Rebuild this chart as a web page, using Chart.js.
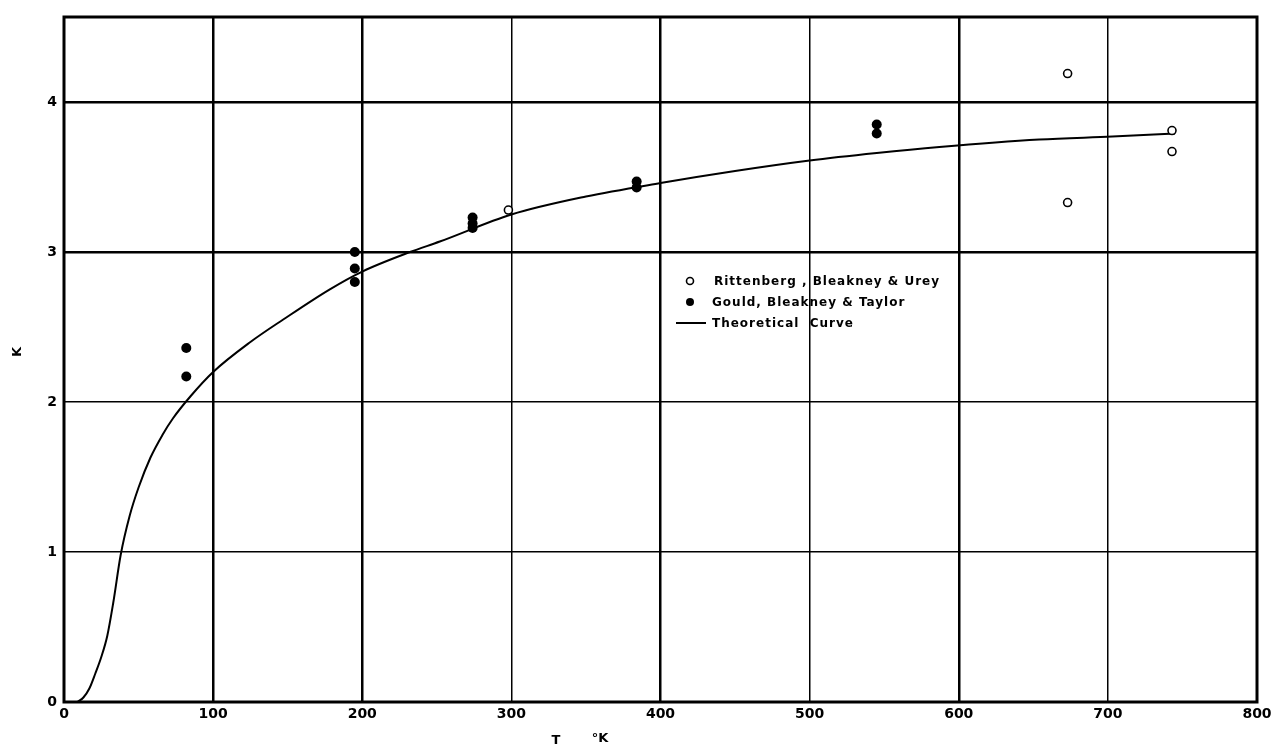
<!DOCTYPE html>
<html>
<head>
<meta charset="utf-8">
<script src="https://cdn.jsdelivr.net/npm/chart.js@4/dist/chart.umd.min.js"></script>
<style>
  html, body { margin: 0; padding: 0; background: #fff; }
  #wrap { position: relative; width: 1277px; height: 750px; }
</style>
</head>
<body>
<div id="wrap"><canvas id="c" width="1277" height="750"></canvas></div>
<script>
// ---- Data ----
const rittT = [298, 673, 673, 743, 743];
const rittK = [3.28, 4.19, 3.33, 3.81, 3.67];

const gouldT = [82, 82, 195, 195, 195, 274, 274, 274, 384, 384, 545, 545];
const gouldK = [2.36, 2.17, 3.00, 2.89, 2.80, 3.23, 3.19, 3.16, 3.47, 3.43, 3.85, 3.79];

const curveT = [9, 13, 17, 21, 25, 29, 33, 38, 44, 50, 58, 66, 73, 85, 100, 125, 147, 178, 200, 232, 252, 300, 350, 400, 450, 500, 545, 587, 654, 703, 745];
const curveK = [0, 0.03, 0.09, 0.19, 0.30, 0.44, 0.66, 0.98, 1.24, 1.43, 1.63, 1.78, 1.89, 2.04, 2.20, 2.40, 2.55, 2.75, 2.87, 3.00, 3.07, 3.25, 3.37, 3.46, 3.54, 3.61, 3.66, 3.70, 3.75, 3.77, 3.79];

const xTickValues = [0, 100, 200, 300, 400, 500, 600, 700, 800];
const yTickValues = [0, 1, 2, 3, 4];
const thickX = [100, 200, 400, 600];
const thickY = [3, 4];

const legendLabels = ['Rittenberg , Bleakney & Urey', 'Gould, Bleakney & Taylor', 'Theoretical  Curve'];
const xTitleParts = ['T', '\u00B0K'];
const yTitle = 'K';

// ---- Build datasets ----
const toXY = (xs, ys) => xs.map((x, i) => ({ x: x, y: ys[i] }));

const FONT = '"DejaVu Sans", "Liberation Sans", sans-serif';

const frame = {
  id: 'frame',
  afterDraw(chart) {
    const { ctx, chartArea: a } = chart;
    ctx.save();
    ctx.strokeStyle = '#000';
    ctx.lineWidth = 3;
    ctx.strokeRect(a.left, a.top, a.right - a.left, a.bottom - a.top);
    ctx.restore();

    // axis titles
    ctx.save();
    ctx.font = 'bold 13px ' + FONT;
    ctx.fillStyle = '#000';
    ctx.textAlign = 'center';
    ctx.textBaseline = 'middle';
    ctx.fillText(xTitleParts[0], 556, 741);
    ctx.fillText(xTitleParts[1], 600, 739);
    ctx.translate(18, 352);
    ctx.rotate(-Math.PI / 2);
    ctx.fillText(yTitle, 0, 0);
    ctx.restore();

    // legend inside plot
    ctx.save();
    ctx.font = 'bold 12px ' + FONT;
    ctx.fillStyle = '#000';
    ctx.textBaseline = 'middle';
    const lx = 690, ly = [281, 302, 323];
    ctx.beginPath(); ctx.arc(lx, ly[0], 3.5, 0, Math.PI * 2);
    ctx.lineWidth = 1.6; ctx.strokeStyle = '#000'; ctx.fillStyle = '#fff'; ctx.fill(); ctx.stroke();
    ctx.beginPath(); ctx.arc(lx, ly[1], 4, 0, Math.PI * 2);
    ctx.fillStyle = '#000'; ctx.fill();
    ctx.beginPath(); ctx.moveTo(676, ly[2]); ctx.lineTo(706, ly[2]);
    ctx.lineWidth = 2; ctx.stroke();
    ctx.fillStyle = '#000';
    const txtX = [714, 712, 712];
    legendLabels.forEach((t, i) => {
      if ('letterSpacing' in ctx) ctx.letterSpacing = '1px';
      ctx.fillText(t, txtX[i], ly[i] + 1);
    });
    ctx.restore();
  }
};

new Chart(document.getElementById('c'), {
  type: 'scatter',
  data: {
    datasets: [
      {
        label: legendLabels[2],
        type: 'line',
        data: toXY(curveT, curveK),
        borderColor: '#000',
        borderWidth: 2,
        pointRadius: 0,
        fill: false,
        cubicInterpolationMode: 'monotone',
        order: 3
      },
      {
        label: legendLabels[1],
        data: toXY(gouldT, gouldK),
        backgroundColor: '#000',
        borderColor: '#000',
        pointRadius: 5,
        borderWidth: 0,
        order: 1
      },
      {
        label: legendLabels[0],
        data: toXY(rittT, rittK),
        backgroundColor: '#fff',
        borderColor: '#000',
        pointRadius: 4,
        borderWidth: 1.6,
        order: 2
      }
    ]
  },
  options: {
    responsive: false,
    animation: false,
    devicePixelRatio: 1,
    layout: { padding: { top: 17, right: 20, left: 0, bottom: 0 } },
    plugins: { legend: { display: false }, tooltip: { enabled: false } },
    scales: {
      x: {
        type: 'linear',
        min: 0, max: 800,
        afterBuildTicks: s => { s.ticks = xTickValues.map(v => ({ value: v })); },
        afterFit: s => { s.height = 48; },
        grid: {
          color: '#000',
          lineWidth: c => (c.tick && thickX.includes(c.tick.value)) ? 2.5 : 1.5,
          drawTicks: false
        },
        border: { display: false },
        ticks: {
          color: '#000',
          font: { family: FONT, size: 14, weight: 'bold' },
          padding: 4,
          maxRotation: 0,
          callback: v => String(v)
        },
        title: { display: false }
      },
      y: {
        type: 'linear',
        min: 0, max: 4.567,
        afterBuildTicks: s => { s.ticks = yTickValues.map(v => ({ value: v })); },
        afterFit: s => { s.width = 64; },
        grid: {
          color: '#000',
          lineWidth: c => (c.tick && thickY.includes(c.tick.value)) ? 2.5 : 1.5,
          drawTicks: false
        },
        border: { display: false },
        ticks: {
          color: '#000',
          font: { family: FONT, size: 14, weight: 'bold' },
          padding: 7,
          callback: v => String(v)
        },
        title: { display: false }
      }
    }
  },
  plugins: [frame]
});
</script>
</body>
</html>
